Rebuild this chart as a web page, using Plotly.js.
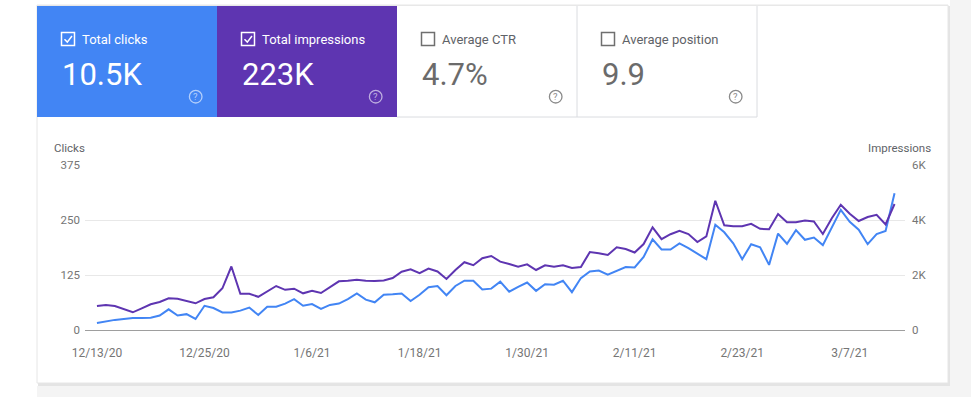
<!DOCTYPE html>
<html>
<head>
<meta charset="utf-8">
<script src="https://cdn.plot.ly/plotly-3.0.1.min.js"></script>
<style>
  html, body { margin: 0; padding: 0; background: #ffffff; }
  #chart { width: 971px; height: 397px; }
</style>
</head>
<body>
<div id="chart"></div>
<script>
// ---------- DATA ----------
const dates = [
  "2020-12-13","2020-12-14","2020-12-15","2020-12-16","2020-12-17","2020-12-18","2020-12-19","2020-12-20","2020-12-21","2020-12-22",
  "2020-12-23","2020-12-24","2020-12-25","2020-12-26","2020-12-27","2020-12-28","2020-12-29","2020-12-30","2020-12-31","2021-01-01",
  "2021-01-02","2021-01-03","2021-01-04","2021-01-05","2021-01-06","2021-01-07","2021-01-08","2021-01-09","2021-01-10","2021-01-11",
  "2021-01-12","2021-01-13","2021-01-14","2021-01-15","2021-01-16","2021-01-17","2021-01-18","2021-01-19","2021-01-20","2021-01-21",
  "2021-01-22","2021-01-23","2021-01-24","2021-01-25","2021-01-26","2021-01-27","2021-01-28","2021-01-29","2021-01-30","2021-01-31",
  "2021-02-01","2021-02-02","2021-02-03","2021-02-04","2021-02-05","2021-02-06","2021-02-07","2021-02-08","2021-02-09","2021-02-10",
  "2021-02-11","2021-02-12","2021-02-13","2021-02-14","2021-02-15","2021-02-16","2021-02-17","2021-02-18","2021-02-19","2021-02-20",
  "2021-02-21","2021-02-22","2021-02-23","2021-02-24","2021-02-25","2021-02-26","2021-02-27","2021-02-28","2021-03-01","2021-03-02",
  "2021-03-03","2021-03-04","2021-03-05","2021-03-06","2021-03-07","2021-03-08","2021-03-09","2021-03-10","2021-03-11","2021-03-12"
];

const clicks = [
  16,20,23,25,27,27,28,33,47,33,
  36,25,55,50,40,40,44,51,34,53,
  53,60,70,55,59,48,57,60,70,83,
  69,63,80,81,83,66,80,97,100,79,
  100,112,112,92,94,110,87,98,108,89,
  104,103,112,86,118,133,135,126,134,143,
  142,166,206,183,183,197,186,173,161,239,
  222,197,161,195,188,148,219,196,227,205,
  210,193,233,273,246,228,195,218,225,311
];

const impressions = [
  873,909,873,764,644,789,934,1018,1153,1138,
  1044,971,1127,1189,1516,2309,1316,1316,1207,1418,
  1600,1462,1502,1334,1425,1345,1564,1771,1789,1825,
  1793,1782,1800,1891,2120,2207,2065,2236,2127,1855,
  2182,2465,2356,2611,2691,2484,2400,2302,2389,2182,
  2353,2302,2353,2254,2291,2836,2793,2727,3007,2945,
  2818,3127,3734,3302,3483,3611,3491,3200,3403,4701,
  3807,3774,3774,3862,3680,3665,4218,3916,3920,3985,
  3945,3491,4062,4552,4225,3963,4109,4189,3836,4582
];

const xTickVals = ["2020-12-13","2020-12-25","2021-01-06","2021-01-18","2021-01-30","2021-02-11","2021-02-23","2021-03-07"];
const xTickText = ["12/13/20","12/25/20","1/6/21","1/18/21","1/30/21","2/11/21","2/23/21","3/7/21"];

const clickTickVals = [0, 125, 250, 375];
const clickTickText = ["0", "125", "250", "375"];
const imprTickVals = [0, 2000, 4000, 6000];
const imprTickText = ["0", "2K", "4K", "6K"];

const metricLabels = ["Total clicks", "Total impressions", "Average CTR", "Average position"];
const metricValues = ["10.5K", "223K", "4.7%", "9.9"];
const metricChecked = [true, true, false, false];

// ---------- LAYOUT HELPERS (pixel -> paper) ----------
const L = 85, R = 905, T = 165, B = 330;
const X = px => (px - L) / (R - L);
const Y = py => (B - py) / (B - T);

const BLUE = "#4285f4";
const PURPLE = "#5e35b1";
const FONT = "Roboto, 'Open Sans', sans-serif";

const shapes = [];
const annotations = [];

function rect(x0, y0, x1, y1, fill, line, lw, layer) {
  shapes.push({type: "rect", xref: "paper", yref: "paper",
    x0: X(x0), x1: X(x1), y0: Y(y1), y1: Y(y0),
    fillcolor: fill, line: {color: line || "rgba(0,0,0,0)", width: lw || 0}, layer: layer || "below"});
}
function seg(x0, y0, x1, y1, color, w) {
  shapes.push({type: "line", xref: "paper", yref: "paper",
    x0: X(x0), x1: X(x1), y0: Y(y0), y1: Y(y1),
    line: {color: color, width: w}, layer: "below"});
}

// page background strips & card shadow
rect(950, 0, 971, 397, "#f4f4f4");
rect(37, 386, 971, 397, "#f4f4f4");
rect(38, 6, 950, 386, "#e4e4e4");
rect(37, 5, 948, 383, "#ffffff", "#e6e6e6", 1);

// metric cards
const cardX = [37, 217, 397, 577];
const cardFill = [BLUE, PURPLE, "#ffffff", "#ffffff"];
seg(37, 5.5, 948, 5.5, "#e8e8e8", 1);
for (let i = 0; i < 4; i++) {
  const cx = cardX[i];
  rect(cx, 6, cx + 180, 117, cardFill[i]);
  const onColor = i < 2;
  const fg = onColor ? "#ffffff" : "#5f6368";
  // checkbox
  shapes.push({type: "rect", xref: "paper", yref: "paper",
    x0: X(cx + 24.5), x1: X(cx + 37.5), y0: Y(45.5), y1: Y(32.5),
    line: {color: onColor ? "#ffffff" : "#6f6f6f", width: 1.5}, fillcolor: "rgba(0,0,0,0)", layer: "above"});
  if (metricChecked[i]) {
    shapes.push({type: "path", xref: "paper", yref: "paper",
      path: `M ${X(cx + 27.5)},${Y(39.3)} L ${X(cx + 30.3)},${Y(42.1)} L ${X(cx + 35)},${Y(36)}`,
      line: {color: "#ffffff", width: 1.5}, layer: "above"});
  }
  annotations.push({xref: "paper", yref: "paper", x: X(cx + 43), y: Y(39),
    xanchor: "left", yanchor: "middle", showarrow: false, text: metricLabels[i],
    font: {family: FONT, size: 13, color: onColor ? "#ffffff" : "#5f6368"}});
  annotations.push({xref: "paper", yref: "paper", x: X(cx + 23), y: Y(74),
    xanchor: "left", yanchor: "middle", showarrow: false, text: metricValues[i],
    font: {family: FONT, size: 31, color: onColor ? "#ffffff" : "#6b6b6b"}});
  // help icon
  const hc = onColor ? "rgba(255,255,255,0.6)" : "#8a8a8a";
  shapes.push({type: "circle", xref: "paper", yref: "paper",
    x0: X(cx + 158.7 - 6.3), x1: X(cx + 158.7 + 6.3), y0: Y(96.7 + 6.3), y1: Y(96.7 - 6.3),
    line: {color: hc, width: 1.3}, fillcolor: "rgba(0,0,0,0)", layer: "above"});
  annotations.push({xref: "paper", yref: "paper", x: X(cx + 158.7), y: Y(96.9),
    xanchor: "center", yanchor: "middle", showarrow: false, text: "?",
    font: {family: FONT, size: 9.5, color: hc}});
}
// white card borders
seg(577, 6, 577, 117, "#dadce0", 1);
seg(757, 6, 757, 117, "#dadce0", 1);
seg(397, 117, 757, 117, "#dadce0", 1);

// axis names
annotations.push({xref: "paper", yref: "paper", x: X(52), y: Y(148), xanchor: "left", yanchor: "middle",
  showarrow: false, text: "Clicks", font: {family: FONT, size: 11.5, color: "#5f6368"}});
annotations.push({xref: "paper", yref: "paper", x: X(933), y: Y(148), xanchor: "right", yanchor: "middle",
  showarrow: false, text: "Impressions", font: {family: FONT, size: 11.5, color: "#5f6368"}});

// ---------- TRACES ----------
const traces = [
  {x: dates, y: impressions, type: "scatter", mode: "lines", name: "Impressions", yaxis: "y2",
   line: {color: PURPLE, width: 2}, hoverinfo: "skip"},
  {x: dates, y: clicks, type: "scatter", mode: "lines", name: "Clicks", yaxis: "y",
   line: {color: BLUE, width: 2}, hoverinfo: "skip"}
];

const tickFont = {family: FONT, size: 11.5, color: "#757575"};

const layout = {
  width: 971, height: 397,
  margin: {l: L, r: 971 - R, t: T, b: 397 - B, pad: 0},
  paper_bgcolor: "#ffffff",
  plot_bgcolor: "rgba(0,0,0,0)",
  showlegend: false,
  font: {family: FONT},
  xaxis: {
    type: "date",
    range: ["2020-12-11 16:00", "2021-03-13 04:00"],
    tickmode: "array", tickvals: xTickVals, ticktext: xTickText,
    showgrid: false, zeroline: false,
    showline: true, linecolor: "#9e9e9e", linewidth: 1,
    ticks: "", tickfont: {family: FONT, size: 12, color: "#757575"},
    ticklabelstandoff: 12, fixedrange: true
  },
  yaxis: {
    range: [0, 375], tickmode: "array", tickvals: clickTickVals, ticktext: clickTickText,
    showgrid: true, gridcolor: "#e8e8e8", gridwidth: 1, zeroline: false, showline: false,
    ticks: "", tickfont: tickFont, ticklabelstandoff: 4, fixedrange: true
  },
  yaxis2: {
    range: [0, 6000], overlaying: "y", side: "right",
    tickmode: "array", tickvals: imprTickVals, ticktext: imprTickText,
    showgrid: false, zeroline: false, showline: false,
    ticks: "", tickfont: tickFont, ticklabelstandoff: 6, fixedrange: true
  },
  shapes: shapes,
  annotations: annotations
};

Plotly.newPlot("chart", traces, layout, {displayModeBar: false, staticPlot: true});
</script>
</body>
</html>
